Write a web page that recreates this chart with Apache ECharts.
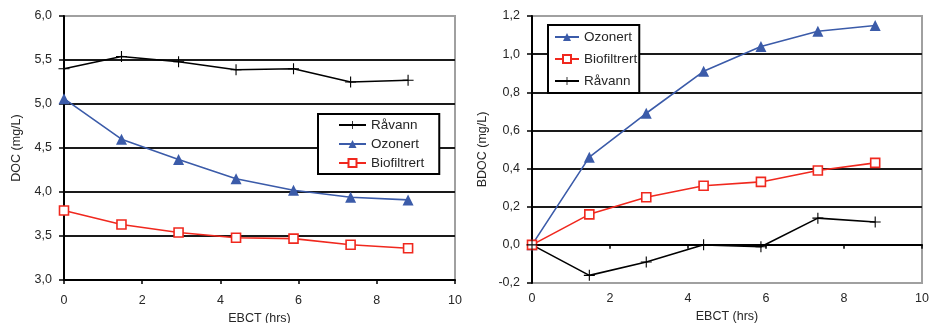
<!DOCTYPE html>
<html><head><meta charset="utf-8">
<script src="https://cdn.jsdelivr.net/npm/echarts@6/dist/echarts.min.js"></script>
<style>html,body{margin:0;padding:0;background:#fff}#c{width:930px;height:323px}</style>
</head><body><div id="c"></div>
<script>
const ebct = [0, 1.47, 2.93, 4.4, 5.87, 7.33, 8.8];
const docRavann = [5.40, 5.54, 5.48, 5.39, 5.40, 5.25, 5.27];
const docOzonert = [5.06, 4.60, 4.37, 4.15, 4.02, 3.94, 3.91];
const docBio = [3.79, 3.63, 3.54, 3.48, 3.47, 3.40, 3.36];
const bdocOzonert = [0, 0.46, 0.69, 0.91, 1.04, 1.12, 1.15];
const bdocBio = [0, 0.16, 0.25, 0.31, 0.33, 0.39, 0.43];
const bdocRavann = [0, -0.16, -0.09, 0, -0.01, 0.14, 0.12];
const names = ['Råvann', 'Ozonert', 'Biofiltrert'];

const FONT = 'Liberation Sans, Arial, sans-serif';
const TXT = '#262626';
const BLUE = '#3b5ba9';
const RED = '#f0281e';
const PLUS = 'path://M5.4,0 L6.6,0 L6.6,5.4 L12,5.4 L12,6.6 L6.6,6.6 L6.6,12 L5.4,12 L5.4,6.6 L0,6.6 L0,5.4 L5.4,5.4 Z';
const comma = v => v.toFixed(1).replace('.', ',');
const pairs = ys => ebct.map((x, i) => [x, ys[i]]);

const styles = {
  'Råvann': {color: '#000', symbol: PLUS, symbolSize: 11, itemStyle: {color: '#000'}},
  'Ozonert': {color: BLUE, symbol: 'triangle', symbolSize: 11, itemStyle: {color: BLUE}},
  'Biofiltrert': {color: RED, symbol: 'rect', symbolSize: 9, itemStyle: {color: '#fff', borderColor: RED, borderWidth: 1.6}}
};
function ser(name, data, idx) {
  const s = styles[name];
  return {
    name, type: 'line', xAxisIndex: idx === 0 ? 0 : 1, yAxisIndex: idx, data: pairs(data),
    symbol: s.symbol, symbolSize: s.symbolSize, showAllSymbol: true,
    lineStyle: {color: s.color, width: 1.6}, itemStyle: s.itemStyle, color: s.color,
    animation: false
  };
}
function xAx(grid, margin, gap) {
  return {
    type: 'value', gridIndex: grid, min: 0, max: 10, interval: 2,
    name: 'EBCT (hrs)', nameLocation: 'middle', nameGap: gap,
    nameTextStyle: {fontFamily: FONT, fontSize: 12.5, color: TXT},
    axisLine: {show: grid === 0, onZero: false, lineStyle: {color: '#000', width: 2}},
    axisTick: {show: grid === 0, length: 4, lineStyle: {color: '#000', width: 1.5}},
    axisLabel: {margin, fontFamily: FONT, fontSize: 12.5, color: TXT},
    splitLine: {show: false}
  };
}
function yAx(grid, min, max, interval, name, gap) {
  return {
    type: 'value', gridIndex: grid, min, max, interval,
    name, nameLocation: 'middle', nameGap: gap, nameRotate: 90,
    nameTextStyle: {fontFamily: FONT, fontSize: 12.5, color: TXT},
    axisLine: {show: true, onZero: false, lineStyle: {color: '#000', width: 2}},
    axisTick: {show: true, length: 5, lineStyle: {color: '#000', width: 1.5}},
    axisLabel: {margin: 12, fontFamily: FONT, fontSize: 12.5, color: TXT, formatter: comma},
    splitLine: {show: true, showMinLine: false, showMaxLine: false, lineStyle: {color: '#1a1a1a', width: 1.8}}
  };
}
const legendBase = {
  orient: 'vertical', backgroundColor: '#fff', borderColor: '#000', borderWidth: 2,
  itemHeight: 10, textStyle: {fontFamily: FONT, fontSize: 13.5, color: TXT, lineHeight: 14},
  selectedMode: false, borderRadius: 0
};

const chart = echarts.init(document.getElementById('c'), null, {renderer: 'canvas'});
chart.setOption({
  animation: false,
  grid: [
    {left: 64, top: 16, width: 391, height: 264, show: true, borderColor: '#a0a0a0', borderWidth: 2, outerBoundsMode: 'none'},
    {left: 532, top: 16, width: 390, height: 267, show: true, borderColor: '#a0a0a0', borderWidth: 2, outerBoundsMode: 'none'}
  ],
  xAxis: [
    xAx(0, 14, 28),
    xAx(1, 9, 26),
    {type: 'value', gridIndex: 1, min: 0, max: 10, interval: 2, position: 'bottom',
     axisLine: {show: true, onZero: true, lineStyle: {color: '#000', width: 2}},
     axisTick: {show: true, length: 4, lineStyle: {color: '#000', width: 1.5}},
     axisLabel: {show: false}, splitLine: {show: false}}
  ],
  yAxis: [
    yAx(0, 3, 6, 0.5, 'DOC (mg/L)', 41),
    yAx(1, -0.2, 1.2, 0.2, 'BDOC (mg/L)', 43)
  ],
  legend: [
    Object.assign({}, legendBase, {left: 318, top: 114, padding: [4, 15, 4, 20], itemWidth: 27, itemGap: 5,
      data: ['Råvann', 'Ozonert', 'Biofiltrert']}),
    Object.assign({}, legendBase, {left: 548, top: 25, padding: [5, 2, 5, 6], itemWidth: 24, itemGap: 8,
      data: ['Ozonert', 'Biofiltrert', 'Råvann']})
  ],
  series: [
    ser('Råvann', docRavann, 0),
    ser('Ozonert', docOzonert, 0),
    ser('Biofiltrert', docBio, 0),
    ser('Ozonert', bdocOzonert, 1),
    ser('Biofiltrert', bdocBio, 1),
    ser('Råvann', bdocRavann, 1)
  ]
});
</script></body></html>
